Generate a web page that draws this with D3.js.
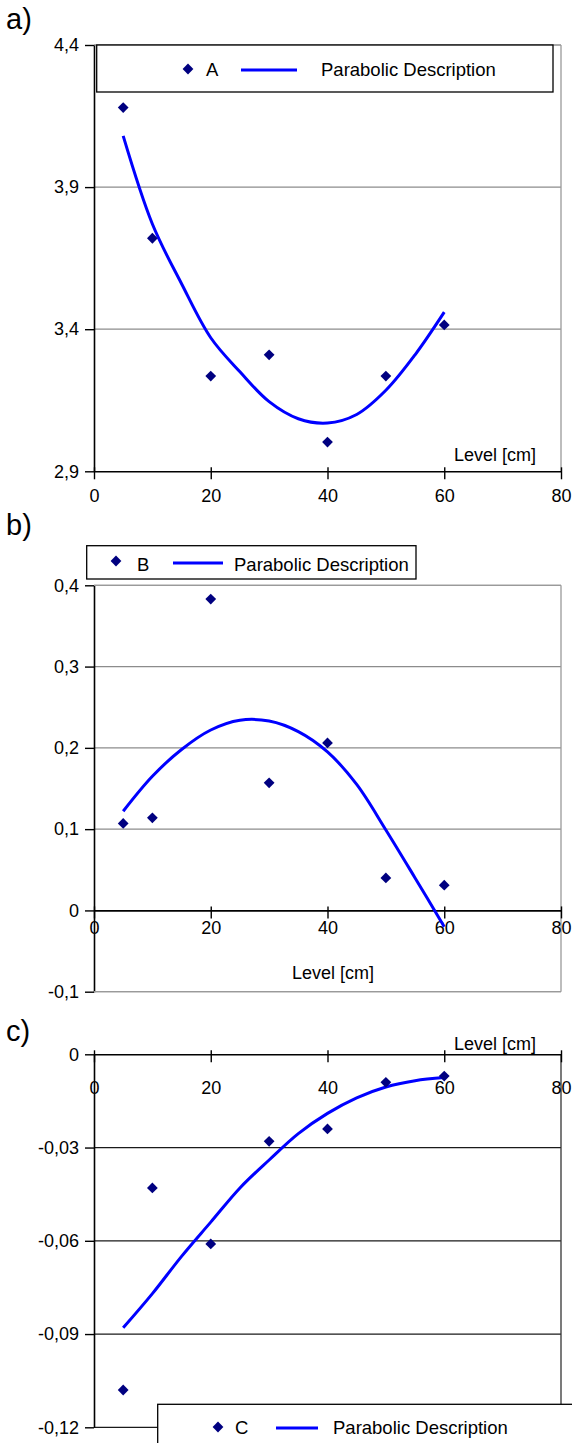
<!DOCTYPE html>
<html>
<head>
<meta charset="utf-8">
<script src="https://cdn.jsdelivr.net/npm/d3@7"></script>
<style>
  body { margin: 0; background: #fff; }
  svg { display: block; font-family: "Liberation Sans", Arial, sans-serif; }
</style>
</head>
<body>
<svg id="chart"></svg>
<script>
// data
const levels = [5, 10, 20, 30, 40, 50, 60];
const fitLevels = [5, 10, 15, 20, 25, 30, 35, 40, 45, 50, 55, 60];
const xTicks = [0, 20, 40, 60, 80];

const valuesA = [4.18, 3.72, 3.235, 3.31, 3.003, 3.235, 3.415];
const fitA = [4.08, 3.77, 3.56, 3.37, 3.25, 3.145, 3.085, 3.07, 3.10, 3.185, 3.31, 3.46];
const yTicksA = [2.9, 3.4, 3.9, 4.4];
const yLabelsA = ["2,9", "3,4", "3,9", "4,4"];

const valuesB = [0.107, 0.114, 0.383, 0.157, 0.206, 0.040, 0.031];
const fitB = [0.122, 0.165, 0.198, 0.222, 0.234, 0.233, 0.220, 0.195, 0.155, 0.099, 0.040, -0.02];
const yTicksB = [-0.1, 0, 0.1, 0.2, 0.3, 0.4];
const yLabelsB = ["-0,1", "0", "0,1", "0,2", "0,3", "0,4"];

const valuesC = [-0.108, -0.043, -0.061, -0.028, -0.024, -0.009, -0.007];
const fitC = [-0.088, -0.077, -0.065, -0.054, -0.043, -0.034, -0.0255, -0.019, -0.014, -0.0105, -0.0085, -0.0075];
const yTicksC = [-0.12, -0.09, -0.06, -0.03, 0];
const yLabelsC = ["-0,12", "-0,09", "-0,06", "-0,03", "0"];

const W = 572, H = 1443;
const svg = d3.select("#chart").attr("width", W).attr("height", H);

const x = d3.scaleLinear().domain([0, 80]).range([94, 561]);
const diamond = d3.symbol().type(d3.symbolSquare).size(58);
const fitLine = (y) => d3.line().x((d) => x(d.x)).y((d) => y(d.y)).curve(d3.curveCatmullRom.alpha(0.5));

function hLine(g, yy, x1, x2, color) {
    g.append("line")
        .attr("x1", x1).attr("x2", x2)
        .attr("y1", yy).attr("y2", yy)
        .style("stroke", color).style("stroke-width", 1.3);
}

function drawPanel(cfg) {
    const g = svg.append("g");
    const y = d3.scaleLinear().domain(cfg.domain).range([cfg.bottom, cfg.top]);
    const axisY = y(cfg.xAxisAt);

    // gridlines and plot frame
    cfg.yTicks.forEach((t) => {
        if (t === cfg.xAxisAt) return;
        hLine(g, y(t), 94, 561, cfg.gridColor);
    });
    g.append("line")
        .attr("x1", 561).attr("x2", 561)
        .attr("y1", cfg.top).attr("y2", cfg.bottom)
        .style("stroke", cfg.borderColor).style("stroke-width", 1.3);

    // y axis
    const yAxis = g.append("g")
        .attr("transform", "translate(94,0)")
        .call(d3.axisLeft(y).tickValues(cfg.yTicks)
            .tickFormat((d, i) => cfg.yLabels[i])
            .tickSize(9).tickSizeOuter(0).tickPadding(6));
    yAxis.select(".domain").style("stroke", "#000").style("stroke-width", 1.6);
    yAxis.selectAll(".tick line").style("stroke", "#000").style("stroke-width", 1.4);
    yAxis.selectAll("text").style("font-size", "18px").style("fill", "#000");

    // x axis
    const xAxis = g.append("g")
        .attr("transform", `translate(0,${axisY})`)
        .call(d3.axisBottom(x).tickValues(xTicks).tickSize(8).tickSizeOuter(0));
    xAxis.select(".domain").style("stroke", "#000").style("stroke-width", 1.6);
    xAxis.selectAll(".tick line").attr("y1", -4).style("stroke", "#000").style("stroke-width", 1.4);
    xAxis.selectAll("text")
        .attr("y", cfg.xLabelOffset).attr("dy", "0.35em")
        .style("font-size", "18px").style("fill", "#000");

    // axis title
    g.append("text")
        .attr("x", cfg.titleX).attr("y", cfg.titleY).attr("dy", "0.35em")
        .attr("text-anchor", cfg.titleAnchor)
        .style("font-size", "18px")
        .text("Level [cm]");

    // fitted curve
    const fitData = fitLevels.map((v, i) => ({ x: v, y: cfg.fit[i] }));
    g.append("path")
        .attr("d", fitLine(y)(fitData))
        .style("fill", "none").style("stroke", "#0000ff").style("stroke-width", 3);

    // measured points
    g.selectAll(".pt")
        .data(levels.map((v, i) => ({ x: v, y: cfg.values[i] })))
        .join("path")
        .attr("class", "pt")
        .attr("d", diamond)
        .attr("transform", (d) => `translate(${x(d.x)},${y(d.y)}) rotate(45)`)
        .style("fill", "#000080");

    // legend
    const lg = cfg.legend;
    g.append("rect")
        .attr("x", lg.x).attr("y", lg.y).attr("width", lg.w).attr("height", lg.h)
        .style("fill", "#fff").style("stroke", "#000").style("stroke-width", 1.3);
    g.append("path")
        .attr("d", diamond)
        .attr("transform", `translate(${lg.markX},${lg.markY}) rotate(45)`)
        .style("fill", "#000080");
    g.append("text")
        .attr("x", lg.nameX).attr("y", lg.textY).attr("dy", "0.35em")
        .style("font-size", "18.5px").text(cfg.name);
    g.append("line")
        .attr("x1", lg.lineX1).attr("x2", lg.lineX2)
        .attr("y1", lg.lineY).attr("y2", lg.lineY)
        .style("stroke", "#0000ff").style("stroke-width", 3);
    g.append("text")
        .attr("x", lg.descX).attr("y", lg.textY).attr("dy", "0.35em")
        .style("font-size", "18.5px").text("Parabolic Description");

    // panel letter
    svg.append("text")
        .attr("x", 6).attr("y", cfg.letterY)
        .style("font-size", "29px").text(cfg.letter);

    return { g, y };
}

drawPanel({
    letter: "a)", letterY: 29, name: "A",
    domain: [2.9, 4.4], top: 45, bottom: 471.3, xAxisAt: 2.9,
    yTicks: yTicksA, yLabels: yLabelsA, values: valuesA, fit: fitA,
    gridColor: "#8c8c8c", borderColor: "#9a9a9a", xLabelOffset: 24,
    titleX: 536, titleY: 455, titleAnchor: "end",
    legend: { x: 96.7, y: 45, w: 456.3, h: 47, markX: 188, markY: 69, nameX: 206,
              lineX1: 241, lineX2: 297, lineY: 70, descX: 321, textY: 70 }
});

const pb = drawPanel({
    letter: "b)", letterY: 535, name: "B",
    domain: [-0.1, 0.4], top: 585.3, bottom: 991.7, xAxisAt: 0,
    yTicks: yTicksB, yLabels: yLabelsB, values: valuesB, fit: fitB,
    gridColor: "#8c8c8c", borderColor: "#9a9a9a", xLabelOffset: 17,
    titleX: 333, titleY: 973, titleAnchor: "middle",
    legend: { x: 86.7, y: 545.7, w: 329.3, h: 33.3, markX: 116, markY: 561, nameX: 137,
              lineX1: 173, lineX2: 223, lineY: 563, descX: 234, textY: 565 }
});
// gray frame lines on top and bottom of panel b
hLine(pb.g, pb.y(0.4), 94, 561, "#9a9a9a");
hLine(pb.g, pb.y(-0.1), 94, 561, "#9a9a9a");

drawPanel({
    letter: "c)", letterY: 1041, name: "C",
    domain: [-0.12, 0], top: 1054.3, bottom: 1427.3, xAxisAt: 0,
    yTicks: yTicksC, yLabels: yLabelsC, values: valuesC, fit: fitC,
    gridColor: "#1a1a1a", borderColor: "#333", xLabelOffset: 33,
    titleX: 536, titleY: 1044, titleAnchor: "end",
    legend: { x: 157.7, y: 1404.3, w: 450, h: 80, markX: 218, markY: 1427, nameX: 235,
              lineX1: 276, lineX2: 318, lineY: 1428, descX: 333, textY: 1428 }
});
</script>
</body>
</html>
